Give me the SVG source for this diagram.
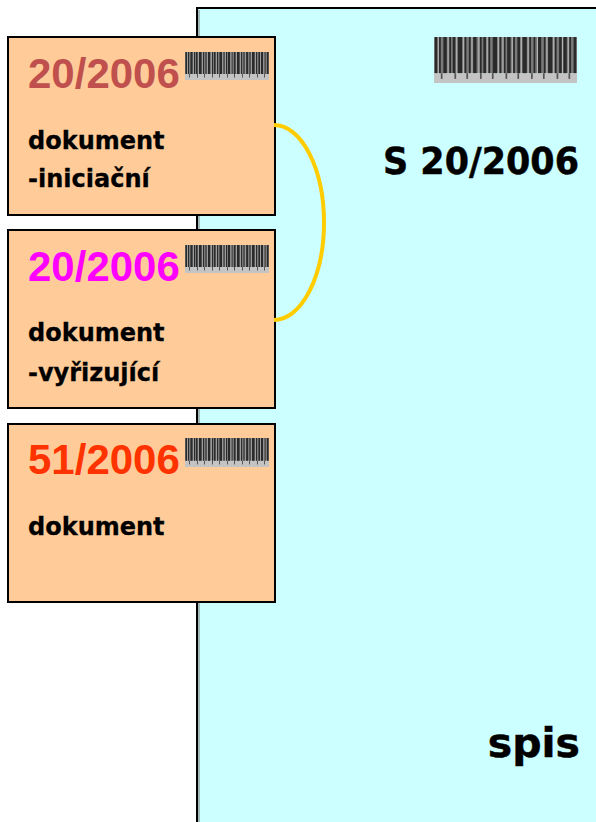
<svg xmlns="http://www.w3.org/2000/svg" xmlns:xlink="http://www.w3.org/1999/xlink" width="596" height="822" viewBox="0 0 596 822">
<style>
.doc{fill:#FFCC99;stroke:#000;stroke-width:2}
.num{font-family:"Liberation Sans",Arial,sans-serif;font-weight:bold;font-size:42px}
.lbl{font-family:"DejaVu Sans",Verdana,sans-serif;font-weight:bold;font-size:24px;fill:#000;stroke:#000;stroke-width:0.3}
.big{font-family:"DejaVu Sans",Verdana,sans-serif;font-weight:bold;fill:#000;stroke:#000;stroke-width:0.5}
.d{fill:#2a2a2a}.l{fill:#b5b5b5}.t{fill:#555}
</style>
<defs>
<symbol id="bc" viewBox="0 0 84 28" preserveAspectRatio="none">
<rect x="0" y="0" width="84" height="22" fill="#7a7a7a"/>
<rect x="0" y="22" width="84" height="6" fill="#c4c4c4"/>
<g class="d">
<rect x="0.5" y="0" width="1.5" height="22"/><rect x="3" y="0" width="1" height="22"/><rect x="5.5" y="0" width="2" height="22"/><rect x="9" y="0" width="1" height="22"/><rect x="11" y="0" width="1.5" height="22"/><rect x="14" y="0" width="2.5" height="22"/><rect x="18" y="0" width="1" height="22"/><rect x="20.5" y="0" width="1" height="22"/><rect x="23" y="0" width="2" height="22"/><rect x="27" y="0" width="1" height="22"/><rect x="29" y="0" width="1.5" height="22"/><rect x="32" y="0" width="1" height="22"/><rect x="34.5" y="0" width="2.5" height="22"/><rect x="38.5" y="0" width="1" height="22"/><rect x="41" y="0" width="1" height="22"/><rect x="43" y="0" width="2" height="22"/><rect x="46.5" y="0" width="1" height="22"/><rect x="49" y="0" width="1.5" height="22"/><rect x="52" y="0" width="2.5" height="22"/><rect x="56" y="0" width="1" height="22"/><rect x="58.5" y="0" width="1" height="22"/><rect x="61" y="0" width="2" height="22"/><rect x="64.5" y="0" width="1" height="22"/><rect x="67" y="0" width="2.5" height="22"/><rect x="71" y="0" width="1" height="22"/><rect x="73.5" y="0" width="1.5" height="22"/><rect x="76" y="0" width="2" height="22"/><rect x="79.5" y="0" width="1" height="22"/><rect x="82" y="0" width="1.5" height="22"/>
</g>
<g class="l">
<rect x="2.2" y="0" width="0.6" height="22"/><rect x="8" y="0" width="0.6" height="22"/><rect x="13" y="0" width="0.6" height="22"/><rect x="17" y="0" width="0.6" height="22"/><rect x="22" y="0" width="0.6" height="22"/><rect x="26" y="0" width="0.6" height="22"/><rect x="31" y="0" width="0.6" height="22"/><rect x="37.5" y="0" width="0.6" height="22"/><rect x="40.2" y="0" width="0.6" height="22"/><rect x="45.7" y="0" width="0.6" height="22"/><rect x="51" y="0" width="0.6" height="22"/><rect x="55" y="0" width="0.6" height="22"/><rect x="60.5" y="0" width="0.6" height="22"/><rect x="66" y="0" width="0.6" height="22"/><rect x="70" y="0" width="0.6" height="22"/><rect x="75.2" y="0" width="0.6" height="22"/><rect x="78.6" y="0" width="0.6" height="22"/>
</g>
<g class="t">
<rect x="4" y="22" width="1" height="3.5"/><rect x="12" y="22" width="1" height="3.5"/><rect x="19" y="22" width="1" height="3.5"/><rect x="27" y="22" width="1" height="3.5"/><rect x="34" y="22" width="1" height="3.5"/><rect x="42" y="22" width="1" height="3.5"/><rect x="49" y="22" width="1" height="3.5"/><rect x="57" y="22" width="1" height="3.5"/><rect x="64" y="22" width="1" height="3.5"/><rect x="72" y="22" width="1" height="3.5"/><rect x="79" y="22" width="1" height="3.5"/>
</g>
</symbol>
</defs>

<g id="spis">
<rect x="197" y="8" width="420" height="830" fill="#CCFFFF" stroke="#000" stroke-width="2"/>
<line x1="199" y1="10" x2="199" y2="822" stroke="#777" stroke-width="1"/>
<use xlink:href="#bc" href="#bc" x="434" y="37" width="143" height="46"/>
<text class="big" x="383" y="174" font-size="37" textLength="196" lengthAdjust="spacingAndGlyphs">S 20/2006</text>
<text class="big" x="580" y="757" font-size="41" text-anchor="end">spis</text>
</g>

<g id="doc1">
<rect class="doc" x="8" y="37" width="267" height="178"/>
<use xlink:href="#bc" href="#bc" x="185" y="52" width="84" height="28"/>
<text class="num" x="28" y="88" fill="#C0504D">20/2006</text>
<text class="lbl" x="28" y="149">dokument</text>
<text class="lbl" x="28" y="187">-iniciační</text>
</g>

<g id="doc2">
<rect class="doc" x="8" y="230" width="267" height="178"/>
<use xlink:href="#bc" href="#bc" x="185" y="245" width="84" height="28"/>
<text class="num" x="28" y="281" fill="#FF00FF">20/2006</text>
<text class="lbl" x="28" y="341">dokument</text>
<text class="lbl" x="28" y="381">-vyřizující</text>
</g>

<g id="doc3">
<rect class="doc" x="8" y="424" width="267" height="178"/>
<use xlink:href="#bc" href="#bc" x="185" y="438" width="84" height="29"/>
<text class="num" x="28" y="474" fill="#FF3300">51/2006</text>
<text class="lbl" x="28" y="535">dokument</text>
</g>

<g id="connectors">
<path d="M 274 125 A 50 97.5 0 0 1 274 320" fill="none" stroke="#FFCC00" stroke-width="4"/>
</g>
</svg>
